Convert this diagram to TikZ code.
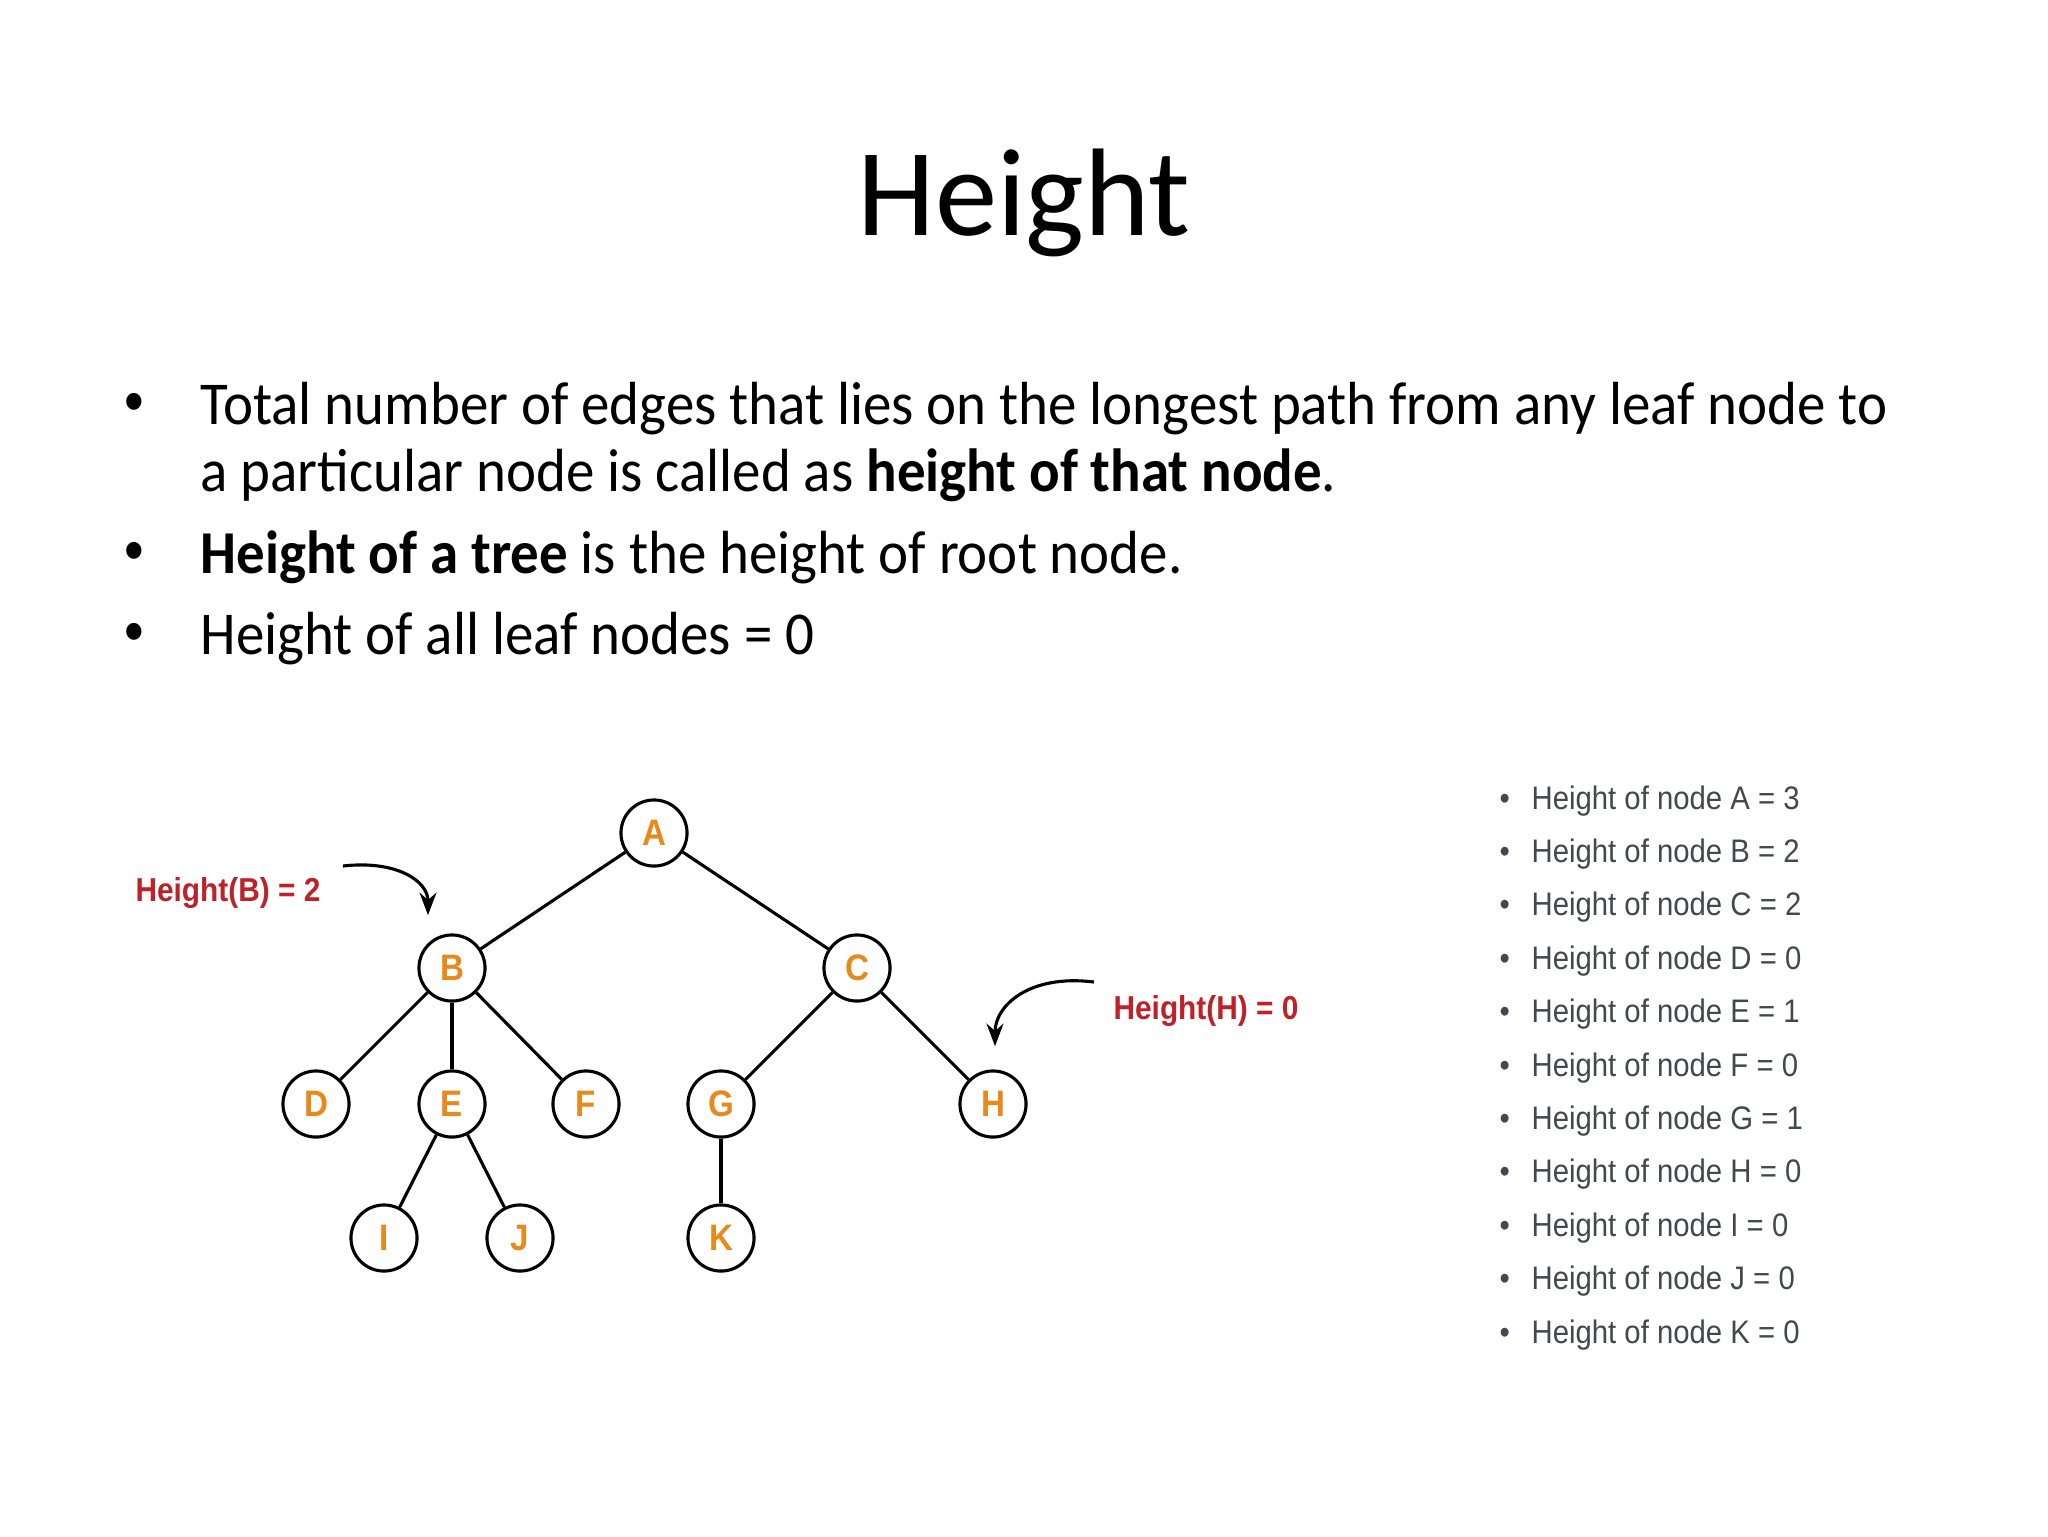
\documentclass[tikz,border=0pt]{standalone}
\usepackage{fontspec}
\setmainfont{Carlito}
\newfontfamily\bodyfont[FakeStretch=0.935]{Carlito}
\newfontfamily\arialfont[FakeStretch=0.9]{Liberation Sans}
\usetikzlibrary{arrows.meta,positioning}
\definecolor{nodeorange}{HTML}{E8891C}
\definecolor{notered}{HTML}{BE2128}
\definecolor{listgray}{HTML}{444750}
\begin{document}
\begin{tikzpicture}[x=0.0124cm,y=-0.0124cm,>=Stealth,
 bodytext/.style={anchor=base west,inner sep=0,font=\bodyfont\fontsize{21.5}{26}\selectfont},
 bodydot/.style={anchor=base west,inner sep=0,font=\arialfont\fontsize{22}{24}\selectfont},
 treenode/.style={circle,draw,line width=1.1pt,fill=white,minimum size=0.82cm,inner sep=0,
   font=\arialfont\bfseries\fontsize{13}{14}\selectfont,text=nodeorange},
 note/.style={anchor=base west,inner sep=0,font=\arialfont\bfseries\fontsize{11.7}{13}\selectfont,text=notered},
 listitem/.style={anchor=base west,inner sep=0,font=\arialfont\fontsize{11.5}{13}\selectfont,text=listgray},
 curvearrow/.style={line width=1.1pt,->,shorten >=1pt}]
\useasboundingbox (0,0) rectangle (2048,1536);
\node[inner sep=0,anchor=base,font=\fontsize{44}{50}\selectfont] (title) at (1024,235) {Height};
% bullet points
\node[bodydot] (dot1) at (124,422) {•};
\node[bodytext] (def1) at (200,424) {Total number of edges that lies on the longest path from any leaf node to};
\node[bodytext] (def2) at (200,491) {a particular node is called as \textbf{height of that node}.};
\node[bodydot] (dot2) at (124,571) {•};
\node[bodytext] (def3) at (200,573) {\textbf{Height of a tree} is the height of root node.};
\node[bodydot] (dot3) at (124,652) {•};
\node[bodytext] (def4) at (200,654) {Height of all leaf nodes = 0};
% tree
\node[treenode] (A) at (654,833) {A};
\node[treenode] (B) at (452,968) {B};
\node[treenode] (C) at (857,968) {C};
\node[treenode] (D) at (316,1104) {D};
\node[treenode] (E) at (452,1104) {E};
\node[treenode] (F) at (586,1104) {F};
\node[treenode] (G) at (721,1104) {G};
\node[treenode] (H) at (993,1104) {H};
\node[treenode] (I) at (384,1238) {I};
\node[treenode] (J) at (520,1238) {J};
\node[treenode] (K) at (721,1238) {K};
\foreach \a/\b in {A/B,A/C,B/D,B/E,B/F,C/G,C/H,E/I,E/J,G/K}{\draw[line width=1.1pt] (\a)--(\b);}
% notes
\node[note] (noteB) at (135,901) {Height(B) = 2};
\coordinate (bstart) at (343,866);
\coordinate (btip) at (428,918);
\draw[curvearrow] (bstart) .. controls (395,860) and (428,880) .. (btip);
\node[note] (noteH) at (1113,1019) {Height(H) = 0};
\coordinate (hstart) at (1094,982);
\coordinate (htip) at (995,1049);
\draw[curvearrow] (hstart) .. controls (1030,974) and (995,1005) .. (htip);
% height list
\foreach \n/\h [count=\i from 0] in {A/3,B/2,C/2,D/0,E/1,F/0,G/1,H/0,I/0,J/0,K/0}{
 \node[listitem] (dot\n) at (1499,809+53.4*\i) {•};
 \node[listitem] (list\n) at (1531,809+53.4*\i) {Height of node \n\ = \h};
}
\end{tikzpicture}
\end{document}
